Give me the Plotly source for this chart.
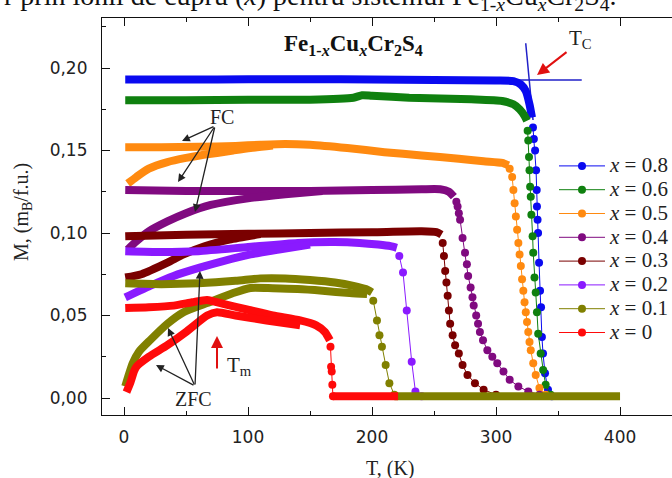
import plotly.graph_objects as go

# ---------------- data ----------------
labels = ["0.8", "0.6", "0.5", "0.4", "0.3", "0.2", "0.1", "0"]
colors = ["#0a0af0", "#0f800f", "#ff8a10", "#800a80", "#7a0000", "#8a1aff", "#808000", "#ff0a0a"]

# x = 0.8
t_fc_08 = [1, 50, 100, 150, 200, 250, 300, 314, 320, 324, 327, 329]
m_fc_08 = [0.193, 0.193, 0.1932, 0.1932, 0.193, 0.1928, 0.1924, 0.192, 0.190, 0.186, 0.178, 0.170]
t_dr_08 = [329.8, 330.5, 331.5, 332.3, 332.8, 333.0, 333.5, 333.9, 334.7, 335.5, 336.3, 337.0, 337.9, 339.5, 341.9, 345]
m_dr_08 = [0.164, 0.157, 0.150, 0.138, 0.126, 0.116, 0.108, 0.100, 0.082, 0.065, 0.055, 0.037, 0.027, 0.015, 0.005, 0.001]

# x = 0.6
t_fc_06 = [1, 50, 100, 150, 185, 192, 200, 230, 280, 305, 314, 319, 323, 325]
m_fc_06 = [0.1805, 0.1805, 0.1808, 0.1808, 0.182, 0.1835, 0.1832, 0.182, 0.181, 0.180, 0.178, 0.175, 0.171, 0.168]
t_dr_06 = [325.5, 326.0, 326.6, 327.0, 327.5, 328.0, 328.5, 329.5, 330.0, 331.0, 332.0, 333.0, 334.0, 336.0, 338.0, 340.0, 344.0]
m_dr_06 = [0.162, 0.156, 0.146, 0.138, 0.128, 0.122, 0.111, 0.098, 0.088, 0.073, 0.064, 0.052, 0.039, 0.027, 0.017, 0.008, 0.002]

# x = 0.5
t_fc_05 = [1, 30, 60, 90, 110, 130, 150, 180, 210, 240, 270, 290, 305, 310]
m_fc_05 = [0.152, 0.152, 0.1522, 0.1528, 0.1535, 0.154, 0.1535, 0.1515, 0.149, 0.147, 0.145, 0.1435, 0.1425, 0.141]
t_dr_05 = [311, 313, 314, 315, 316, 317, 318, 319, 320, 321, 322, 323, 324, 325, 326, 327, 328, 330, 332, 335, 340]
m_dr_05 = [0.139, 0.134, 0.126, 0.118, 0.110, 0.102, 0.094, 0.087, 0.080, 0.072, 0.065, 0.058, 0.052, 0.046, 0.040, 0.034, 0.029, 0.021, 0.014, 0.006, 0.002]
t_zfc_05 = [3, 10, 20, 35, 50, 61, 75, 88, 102, 120]
m_zfc_05 = [0.130, 0.134, 0.139, 0.143, 0.1455, 0.147, 0.1485, 0.150, 0.1515, 0.153]

# x = 0.4
t_fc_04 = [1, 50, 100, 150, 200, 240, 255, 262, 266]
m_fc_04 = [0.126, 0.1255, 0.1255, 0.1255, 0.126, 0.1265, 0.1265, 0.125, 0.122]
t_dr_04 = [268, 269, 270, 271, 273, 275, 276.5, 277.5, 279.5, 281, 282, 284, 285.5, 287, 289.5, 293, 297, 301, 306, 311, 318, 326, 335]
m_dr_04 = [0.119, 0.116, 0.112, 0.108, 0.097, 0.088, 0.081, 0.074, 0.067, 0.061, 0.056, 0.050, 0.045, 0.040, 0.035, 0.029, 0.025, 0.021, 0.016, 0.011, 0.007, 0.004, 0.002]
t_zfc_04 = [3, 10, 20, 35, 50, 70, 100, 130, 160]
m_zfc_04 = [0.090, 0.095, 0.101, 0.107, 0.112, 0.117, 0.121, 0.1235, 0.1255]

# x = 0.3
t_fc_03 = [1, 50, 100, 150, 200, 240, 252, 256]
m_fc_03 = [0.098, 0.099, 0.0995, 0.100, 0.1005, 0.101, 0.1005, 0.099]
t_dr_03 = [257, 258, 259, 260, 261, 262, 263, 265, 267, 270, 273, 277, 283, 290, 300]
m_dr_03 = [0.094, 0.086, 0.077, 0.070, 0.062, 0.053, 0.045, 0.038, 0.032, 0.027, 0.020, 0.014, 0.009, 0.005, 0.002]
t_zfc_03 = [1, 14, 35, 48, 65, 85, 110]
m_zfc_03 = [0.073, 0.075, 0.082, 0.087, 0.092, 0.096, 0.0993]

# x = 0.2
t_fc_02 = [1, 30, 60, 100, 140, 170, 190, 205, 215, 220]
m_fc_02 = [0.089, 0.0885, 0.089, 0.0915, 0.094, 0.0945, 0.094, 0.093, 0.092, 0.091]
t_dr_02 = [222, 225, 228, 232, 235, 240]
m_dr_02 = [0.086, 0.076, 0.053, 0.022, 0.004, 0.001]
t_zfc_02 = [1, 21, 40, 61, 80, 102, 125, 150]
m_zfc_02 = [0.061, 0.068, 0.074, 0.079, 0.083, 0.087, 0.090, 0.093]

# x = 0.1
t_fc_01 = [1, 30, 60, 90, 110, 130, 150, 170, 185, 195, 200]
m_fc_01 = [0.0695, 0.069, 0.0695, 0.071, 0.0725, 0.0725, 0.0715, 0.070, 0.068, 0.066, 0.064]
t_dr_01 = [201, 204, 206, 208, 211, 214, 218]
m_dr_01 = [0.059, 0.047, 0.038, 0.031, 0.020, 0.009, 0.002]
t_zfc_01 = [1, 3, 7, 12, 21, 35, 48, 67, 88, 102, 120, 140, 160, 182, 196]
m_zfc_01 = [0.007, 0.012, 0.021, 0.028, 0.035, 0.045, 0.052, 0.0575, 0.0636, 0.0667, 0.0665, 0.066, 0.065, 0.0636, 0.063]
t_tail_01 = [218, 400]
m_tail_01 = [0.001, 0.001]

# x = 0
t_fc_00 = [1, 20, 40, 55, 67, 80, 100, 120, 142, 155, 162, 166]
m_fc_00 = [0.0545, 0.055, 0.056, 0.058, 0.0594, 0.057, 0.0535, 0.050, 0.047, 0.044, 0.040, 0.035]
t_dr_00 = [166.5, 167, 167.5, 168, 168.5]
m_dr_00 = [0.031, 0.019, 0.016, 0.008, 0.001]
t_zfc_00 = [2, 5, 8, 10, 20, 35, 50, 67, 75, 90, 115, 142]
m_zfc_00 = [0.0036, 0.009, 0.016, 0.019, 0.025, 0.032, 0.040, 0.050, 0.052, 0.050, 0.047, 0.044]
t_tail_00 = [168.5, 221]
m_tail_00 = [0.001, 0.001]

series = [
    (t_fc_08, m_fc_08, t_dr_08, m_dr_08, None, None, None, None),
    (t_fc_06, m_fc_06, t_dr_06, m_dr_06, None, None, None, None),
    (t_fc_05, m_fc_05, t_dr_05, m_dr_05, t_zfc_05, m_zfc_05, None, None),
    (t_fc_04, m_fc_04, t_dr_04, m_dr_04, t_zfc_04, m_zfc_04, None, None),
    (t_fc_03, m_fc_03, t_dr_03, m_dr_03, t_zfc_03, m_zfc_03, None, None),
    (t_fc_02, m_fc_02, t_dr_02, m_dr_02, t_zfc_02, m_zfc_02, None, None),
    (t_fc_01, m_fc_01, t_dr_01, m_dr_01, t_zfc_01, m_zfc_01, t_tail_01, m_tail_01),
    (t_fc_00, m_fc_00, t_dr_00, m_dr_00, t_zfc_00, m_zfc_00, t_tail_00, m_tail_00),
]

SERIF = "Liberation Serif, Times New Roman, serif"
SANS = "DejaVu Sans, Arial, sans-serif"
BAND = 8

fig = go.Figure()
for lab, col, (tf, mf, td, md, tz, mz, tt, mt) in zip(labels, colors, series):
    for tx, my in ((tf, mf), (tz, mz), (tt, mt)):
        if tx is None:
            continue
        fig.add_trace(go.Scatter(x=tx, y=my, mode="lines", showlegend=False, hoverinfo="skip",
                                 line=dict(color=col, width=BAND, shape="spline", smoothing=0.6)))
    fig.add_trace(go.Scatter(x=td, y=md, mode="lines+markers",
                             name="<span style='font-size:21px'><i>x</i> = " + lab + "</span>",
                             line=dict(color=col, width=1),
                             marker=dict(color=col, size=8)))

# ---------------- layout ----------------
L, R, T, B = 102, 0, 18, 63
W, H = 672, 478
pw, ph = W - L - R, H - T - B


def px(xp):
    return (xp - L) / pw


def py(yp):
    return (H - B - yp) / ph


axis_common = dict(showline=True, linecolor="#111", linewidth=1.2, ticks="inside", ticklen=8,
                   tickwidth=1.2, tickcolor="#111", showgrid=False, zeroline=False,
                   tickfont=dict(family=SANS, size=17, color="#222"))

fig.update_layout(
    width=W, height=H, margin=dict(l=L, r=R, t=T, b=B, autoexpand=False),
    paper_bgcolor="white", plot_bgcolor="white",
    separators=",.",
    showlegend=True,
    legend=dict(x=px(554), y=py(149), xanchor="left", yanchor="top", bgcolor="rgba(0,0,0,0)",
                font=dict(family=SERIF, size=16, color="#222"), itemwidth=46, tracegroupgap=0),
    xaxis=dict(range=[-17.74, 441.9], tick0=0, dtick=100, mirror="ticks",
               minor=dict(dtick=50, ticklen=4, ticks="inside", tickcolor="#111"),
               ticklabelstandoff=6, **axis_common),
    yaxis=dict(range=[-0.0103, 0.2303], tick0=0, dtick=0.05, tickformat=".2f",
               minor=dict(dtick=0.025, ticklen=4, ticks="inside", tickcolor="#111"),
               ticklabelstandoff=10, **axis_common),
)

ann = []
# caption line at top (cut off)
ann.append(dict(text="r prin ionii de cupru (<i>x</i>) pentru sistemul Fe<sub>1-<i>x</i></sub>Cu<sub><i>x</i></sub>Cr<sub>2</sub>S<sub>4</sub>.",
                xref="paper", yref="paper", x=px(2), y=py(17), xanchor="left", yanchor="bottom",
                showarrow=False, font=dict(family=SERIF, size=28, color="#111")))
# axis titles
ann.append(dict(text="M, (m<sub>B</sub>/f.u.)", xref="paper", yref="paper", x=px(22), y=py(212),
                xanchor="center", yanchor="middle",
                textangle=-90, showarrow=False, font=dict(family=SERIF, size=20, color="#222")))
ann.append(dict(text="T, (K)", xref="paper", yref="paper", x=px(390), y=py(468),
                xanchor="center", yanchor="middle",
                showarrow=False, font=dict(family=SERIF, size=20, color="#222")))
# formula title
ann.append(dict(text="<b>Fe<sub>1-<i>x</i></sub>Cu<sub><i>x</i></sub>Cr<sub>2</sub>S<sub>4</sub></b>",
                xref="paper", yref="paper", x=px(353), y=py(45), xanchor="center", yanchor="middle",
                showarrow=False, font=dict(family=SERIF, size=23, color="#111")))


def dx(p):
    return (p - 124) / 1.24


def dy(p):
    return (398 - p) / 1650


def arrow(tail, tip, color="#222", width=1.3, head=2, size=1.2):
    return dict(x=dx(tip[0]), y=dy(tip[1]), xref="x", yref="y", ax=tail[0] - tip[0], ay=tail[1] - tip[1],
                axref="pixel", ayref="pixel", text="", showarrow=True, arrowhead=head, arrowsize=size,
                arrowwidth=width, arrowcolor=color)


def label(text, xp, yp, size=20):
    return dict(text=text, x=dx(xp), y=dy(yp), xref="x", yref="y", xanchor="center", yanchor="middle",
                showarrow=False, font=dict(family=SERIF, size=size, color="#222"))


# FC
ann.append(label("FC", 222, 117))
for tip in [(182, 141), (178, 182), (195, 212)]:
    ann.append(arrow((215, 126), tip))
# ZFC
ann.append(label("ZFC", 193, 399))
for tip in [(200, 271), (168, 328), (156, 365)]:
    ann.append(arrow((195, 386), tip))
# Tm
ann.append(arrow((217, 370), (217, 336), color="#e01010", width=2))
ann.append(label("T<sub>m</sub>", 239, 366, 21))
# Tc
ann.append(arrow((568, 51), (537, 75), color="#e01010", width=2))
ann.append(label("T<sub>C</sub>", 580, 39, 21))
fig.update_layout(annotations=ann)

# Tc tangent lines
fig.add_shape(type="line", xref="x", yref="y", x0=dx(525.7), y0=dy(43.3), x1=dx(533), y1=dy(120),
              line=dict(color="#2020c8", width=1.5), layer="below")
fig.add_shape(type="line", xref="x", yref="y", x0=250, y0=dy(80), x1=dx(581.7), y1=dy(80),
              line=dict(color="#2020c8", width=1.5), layer="below")

fig.write_html("out.html", config={"displayModeBar": False},
               post_script="document.body.style.margin='0px';document.body.style.overflow='hidden';")
